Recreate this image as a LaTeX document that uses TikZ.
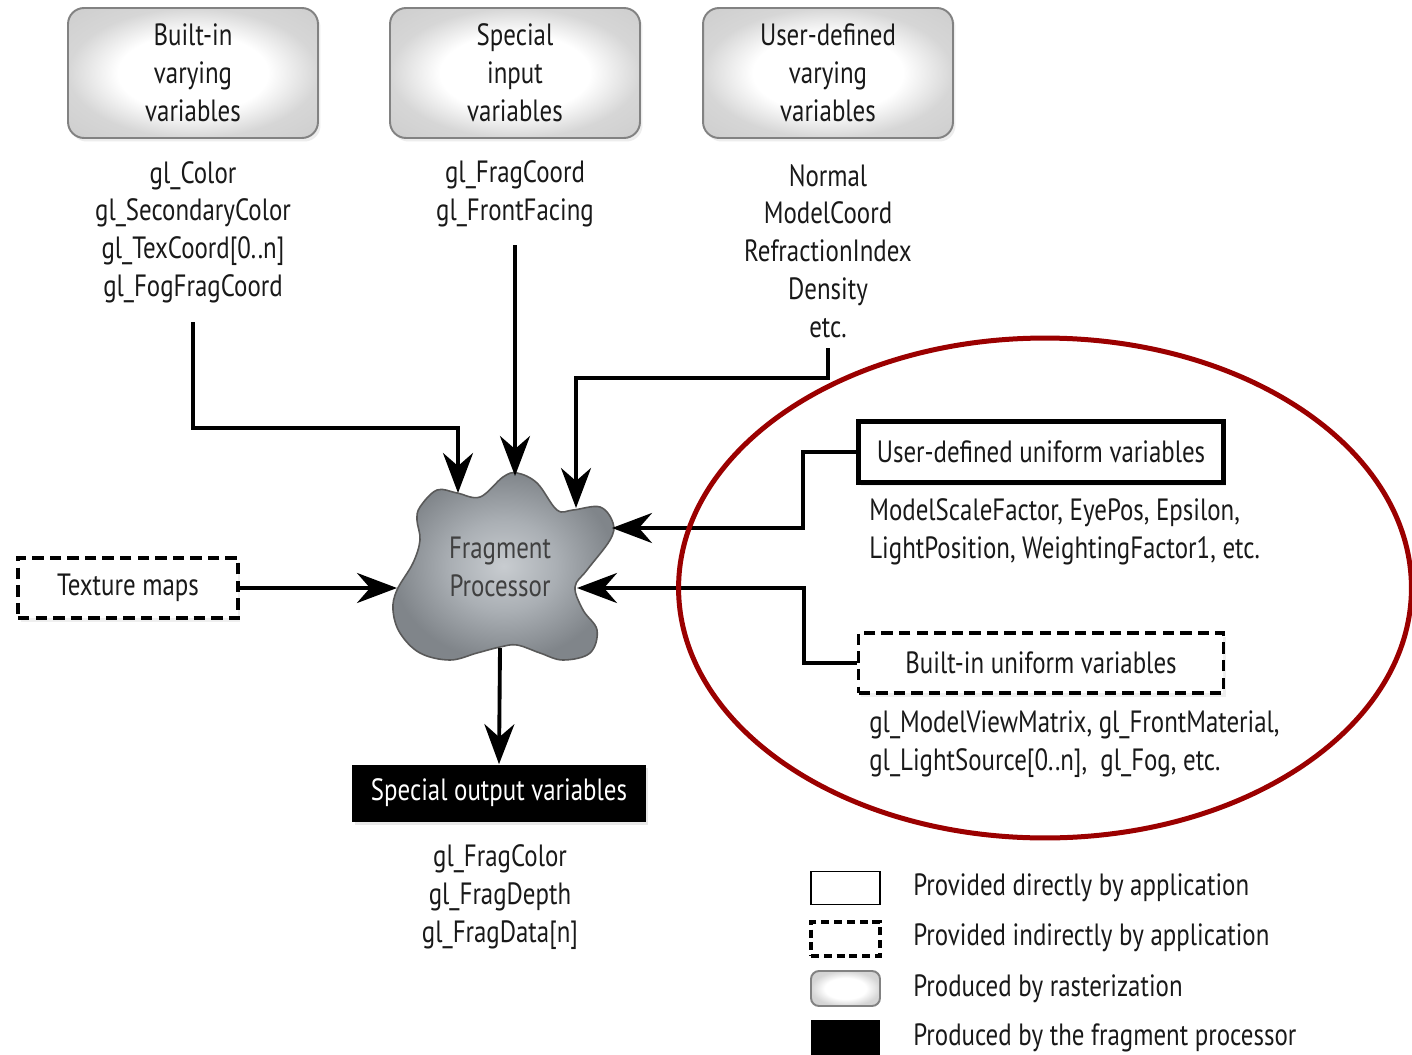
\documentclass[tikz,border=0pt]{standalone}
\usepackage{fontspec}
\setmainfont{PT Sans}[FakeStretch=0.81]
\usetikzlibrary{arrows.meta,shadows,calc}

\definecolor{ringred}{RGB}{155,0,0}
\definecolor{boxedge}{RGB}{130,130,130}
\definecolor{ink}{RGB}{25,25,25}
\definecolor{blobin}{RGB}{200,204,208}
\definecolor{blobmid}{RGB}{170,175,180}
\definecolor{blobout}{RGB}{128,133,138}

% soft white-centred glow for the rasterization boxes
\pgfdeclareradialshading{boxglow}{\pgfpoint{0bp}{0bp}}{%
  color(0bp)=(white); color(15bp)=(white); color(25bp)=(black!16); color(50bp)=(black!24)}
% grey body of the fragment processor
\pgfdeclareradialshading{blobshade}{\pgfpoint{0bp}{0bp}}{%
  color(0bp)=(blobin); color(12bp)=(blobmid); color(25bp)=(blobout); color(50bp)=(blobout)}

\begin{document}
\begin{tikzpicture}[x=0.02cm,y=-0.02cm,
  every node/.style={font=\fontsize{17.5}{21.5}\selectfont, text=ink, inner sep=0pt},
  raster/.style={draw=boxedge, line width=1.1pt, rounded corners=0.32cm,
    shading=boxglow, minimum width=5cm, minimum height=2.6cm, align=center,
    drop shadow={opacity=0.14, shadow xshift=0.05cm, shadow yshift=-0.07cm}},
  direct/.style={draw=black, line width=2.6pt, fill=white, minimum width=7.3cm,
    minimum height=1.22cm,
    drop shadow={opacity=0.12, shadow xshift=0.05cm, shadow yshift=-0.07cm}},
  indirect/.style={draw=black, line width=2.2pt, fill=white,
    dash pattern=on 6.5pt off 3.5pt, minimum height=1.2cm,
    drop shadow={opacity=0.12, shadow xshift=0.05cm, shadow yshift=-0.07cm}},
  output/.style={fill=black, text=white, minimum width=5.88cm, minimum height=1.14cm,
    drop shadow={opacity=0.18, shadow xshift=0.05cm, shadow yshift=-0.07cm}},
  varlist/.style={align=center},
  leftlist/.style={align=left, anchor=west},
  conn/.style={draw=black, line width=2.2pt,
    -{Stealth[length=0.8cm, width=0.6cm, inset=0.26cm]}},
]
% page
\fill[white] (0,0) rectangle (1412,1054);
\useasboundingbox (0,0) rectangle (1412,1054);

% ---- inputs along the top
\node[raster] (bv) at (193,73) {Built-in\\varying\\variables};
\node[raster] (si) at (515,73) {Special\\input\\variables};
\node[raster] (ud) at (828,73) {User-defined\\varying\\variables};

\node[varlist] (bvlist) at (193,232) {gl\_Color\\gl\_SecondaryColor\\gl\_TexCoord[0..n]\\gl\_FogFragCoord};
\node[varlist] (silist) at (515,194) {gl\_FragCoord\\gl\_FrontFacing};
\node[varlist] (udlist) at (828,251) {Normal\\ModelCoord\\RefractionIndex\\Density\\etc.};

% ---- fragment processor
\path[draw=black!65, line width=0.9pt, shading=blobshade]
  plot[smooth cycle, tension=0.6] coordinates {
    (420,507) (437,490) (457,493) (480,497) (503,477) (517,473) (537,483)
    (557,510) (573,510) (600,507) (613,523) (610,540) (587,570) (575,587)
    (583,610) (597,630) (590,653) (563,660) (540,653) (517,645) (500,647)
    (477,653) (450,660) (420,653) (400,633) (393,610) (397,590) (413,563)
    (420,540) (417,520)};
\node[align=center, text=black!75] (fp) at (500,567) {Fragment\\Processor};

\coordinate (in1) at (458,493);
\coordinate (in2) at (515,476);
\coordinate (in3) at (576,508);
\coordinate (in4) at (397,588);
\coordinate (in5) at (612,528);
\coordinate (in6) at (577,588);
\coordinate (fpout) at (500,648);
\coordinate (k1) at (458,428);
\coordinate (k3) at (576,378);

% ---- side inputs
\node[indirect, minimum width=4.4cm] (tex) at (128,588) {Texture maps};
\node[direct] (udu) at (1041,452) {User-defined uniform variables};
\node[leftlist] (udulist) at (869,532) {ModelScaleFactor, EyePos, Epsilon,\\LightPosition, WeightingFactor1, etc.};
\node[indirect, minimum width=7.3cm] (biu) at (1041,663) {Built-in uniform variables};
\node[leftlist] (biulist) at (869,744) {gl\_ModelViewMatrix, gl\_FrontMaterial,\\gl\_LightSource[0..n],\ \ gl\_Fog, etc.};

% ---- output
\node[output] (sov) at (499,793) {Special output variables};
\node[varlist] (sovlist) at (500,897) {gl\_FragColor\\gl\_FragDepth\\gl\_FragData[n]};

% ---- connectors
\draw[conn, shorten <=0.38cm] (bvlist.south) |- (k1) -- (in1);
\draw[conn, shorten <=0.36cm] (silist.south) -- (in2);
\draw[conn, shorten <=0.2cm] (udlist.south) |- (k3) -- (in3);
\draw[conn] (tex.east) -- (in4);
\draw[conn] (udu.west) -- ++(-53,0) |- (in5);
\draw[conn] (biu.west) -- ++(-53,0) |- (in6);
\draw[conn] (fpout) -- (sov.north);

% ---- highlight ring
\draw[ringred, line width=0.1cm] (1045,588) ellipse [x radius=7.33cm, y radius=5cm];

% ---- legend
\node[draw=black, line width=1.1pt, fill=white, minimum width=1.38cm, minimum height=0.66cm] (lg1) at (845.5,888) {};
\node[draw=black, line width=1.8pt, dash pattern=on 4.5pt off 2.8pt, fill=white, minimum width=1.38cm, minimum height=0.68cm] (lg2) at (845.5,939) {};
\node[draw=boxedge, line width=1.1pt, rounded corners=0.16cm, shading=boxglow, minimum width=1.38cm, minimum height=0.7cm] (lg3) at (845.5,988.5) {};
\node[fill=black, minimum width=1.38cm, minimum height=0.8cm] (lg4) at (845.5,1040) {};
\node[anchor=west] (lt1) at (913,888) {Provided directly by application};
\node[anchor=west] (lt2) at (913,938) {Provided indirectly by application};
\node[anchor=west] (lt3) at (913,989) {Produced by rasterization};
\node[anchor=west] (lt4) at (913,1038) {Produced by the fragment processor};
\end{tikzpicture}
\end{document}
